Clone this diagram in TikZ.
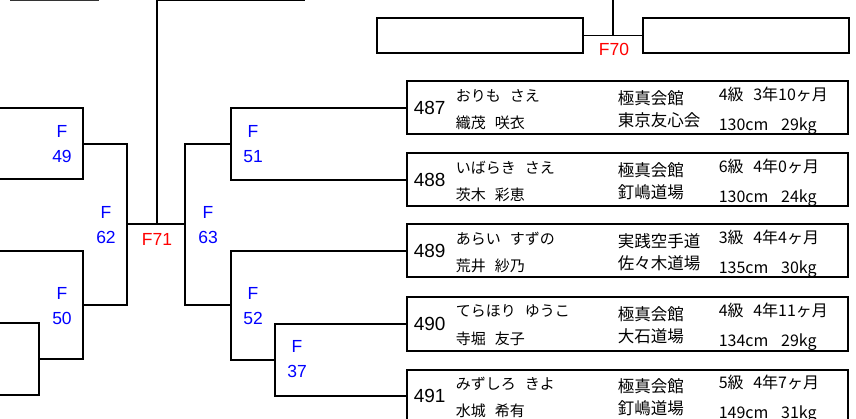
\documentclass[tikz,border=0pt]{standalone}
\usepackage{fontspec}
\setmainfont{Liberation Sans}
\newfontfamily\jpfont{Noto Sans CJK JP}
\newcommand{\nmsp}{\hspace{.6em}}
\begin{document}
\begin{tikzpicture}[x=1pt,y=-1pt,line width=1.6pt,
 entry/.style={draw,line width=2pt,minimum width=441pt,minimum height=53pt,inner sep=0pt},
 seat/.style={draw,line width=1.7pt,minimum width=206pt,minimum height=35pt,inner sep=0pt},
 bout/.style={text=blue,align=center,inner sep=0pt,font=\fontsize{17.5}{24.5}\selectfont},
 final/.style={text=red,inner sep=0pt,font=\fontsize{17.5}{21}\selectfont},
 num/.style={anchor=west,inner sep=0pt,font=\fontsize{19}{22}\selectfont},
 kana/.style={anchor=west,inner sep=0pt,font=\jpfont\fontsize{15}{18}\selectfont},
 dojo/.style={anchor=west,inner sep=0pt,font=\jpfont\fontsize{16.5}{19}\selectfont},
 info/.style={anchor=west,inner sep=0pt,font=\jpfont\fontsize{16}{19}\selectfont}]
\useasboundingbox (0,0) rectangle (856,419);
\clip (0,0) rectangle (856,419);
% entrant boxes
\node[entry] (b487) at (627.5,108) {}; \node[entry] (b488) at (627.5,180) {};
\node[entry] (b489) at (627.5,251) {}; \node[entry] (b490) at (627.5,324) {};
\node[entry] (b491) at (627.5,396) {};
\node[seat] (t1) at (480,35.5) {}; \node[seat] (t2) at (746,35.5) {};
% bracket points
\coordinate (e1) at (0,108); \coordinate (e2) at (0,179);
\coordinate (e3) at (0,251); \coordinate (e4) at (0,323);
\coordinate (e5) at (0,395); \coordinate (j0) at (39,359);
\coordinate (f49) at (83,144); \coordinate (f50) at (83,305);
\coordinate (f62) at (127,224); \coordinate (f71) at (157,224);
\coordinate (f63) at (185,224); \coordinate (f51) at (231,144);
\coordinate (f52) at (231,305); \coordinate (f37) at (275,360);
\coordinate (top71) at (157,0); \coordinate (f70) at (613,36);
\coordinate (top70) at (613,0);
\coordinate (g1) at (10,0.7); \coordinate (g2) at (99,0.7);
\coordinate (g3) at (157,0.6); \coordinate (g4) at (305,0.6);
\draw (e1) -| (f49) |- (e2);
\draw (e4) -| (j0) |- (e5);
\draw (e3) -| (f50) |- (j0);
\draw (f49) -| (f62) |- (f50);
\draw (f62) -- (f63); \draw (f71) -- (top71);
\draw (f51) -| (f63) |- (f52);
\draw (b487.west) -| (f51) |- (b488.west);
\draw (b489.west) -| (f52) |- (f37);
\draw (b490.west) -| (f37) |- (b491.west);
\draw (t1.east) -- (t2.west); \draw (f70) -- (top70);
\draw[black!80,line width=1.4pt] (g1) -- (g2);
\draw[line width=1.2pt] (g3) -- (g4);
% bout labels
\node[bout] (l49) at (62,144) {F\\49}; \node[bout] (l50) at (62,306) {F\\50};
\node[bout] (l62) at (106,225) {F\\62}; \node[bout] (l63) at (208,225) {F\\63};
\node[bout] (l51) at (253,144) {F\\51}; \node[bout] (l52) at (253,306) {F\\52};
\node[bout] (l37) at (297,359) {F\\37};
\node[final] (l71) at (157,239) {F71}; \node[final] (l70) at (614,49) {F70};
% entrants
\node[num] (no487) at (413,108) {487};
\node[kana] (kana487) at (455,95.5) {おりも\nmsp さえ}; \node[kana] (kanji487) at (455,122.5) {織茂\nmsp 咲衣};
\node[dojo] (dojoa487) at (617,98.5) {極真会館}; \node[dojo] (dojob487) at (617,120.5) {東京友心会};
\node[info] (grade487) at (718,94.5) {4級\nmsp 3年10ヶ月}; \node[info] (size487) at (718,126) {130cm\hspace{.8em}29kg};
\node[num] (no488) at (413,180) {488};
\node[kana] (kana488) at (455,167.5) {いばらき\nmsp さえ}; \node[kana] (kanji488) at (455,194.5) {茨木\nmsp 彩恵};
\node[dojo] (dojoa488) at (617,170.5) {極真会館}; \node[dojo] (dojob488) at (617,192.5) {釘嶋道場};
\node[info] (grade488) at (718,166.5) {6級\nmsp 4年0ヶ月}; \node[info] (size488) at (718,198) {130cm\hspace{.8em}24kg};
\node[num] (no489) at (413,251) {489};
\node[kana] (kana489) at (455,238.5) {あらい\nmsp すずの}; \node[kana] (kanji489) at (455,265.5) {荒井\nmsp 紗乃};
\node[dojo] (dojoa489) at (617,241.5) {実践空手道}; \node[dojo] (dojob489) at (617,263.5) {佐々木道場};
\node[info] (grade489) at (718,237.5) {3級\nmsp 4年4ヶ月}; \node[info] (size489) at (718,269) {135cm\hspace{.8em}30kg};
\node[num] (no490) at (413,324) {490};
\node[kana] (kana490) at (455,311.5) {てらほり\nmsp ゆうこ}; \node[kana] (kanji490) at (455,338.5) {寺堀\nmsp 友子};
\node[dojo] (dojoa490) at (617,314.5) {極真会館}; \node[dojo] (dojob490) at (617,336.5) {大石道場};
\node[info] (grade490) at (718,310.5) {4級\nmsp 4年11ヶ月}; \node[info] (size490) at (718,342) {134cm\hspace{.8em}29kg};
\node[num] (no491) at (413,396) {491};
\node[kana] (kana491) at (455,383.5) {みずしろ\nmsp きよ}; \node[kana] (kanji491) at (455,410.5) {水城\nmsp 希有};
\node[dojo] (dojoa491) at (617,386.5) {極真会館}; \node[dojo] (dojob491) at (617,408.5) {釘嶋道場};
\node[info] (grade491) at (718,382.5) {5級\nmsp 4年7ヶ月}; \node[info] (size491) at (718,414) {149cm\hspace{.8em}31kg};
\end{tikzpicture}
\end{document}
